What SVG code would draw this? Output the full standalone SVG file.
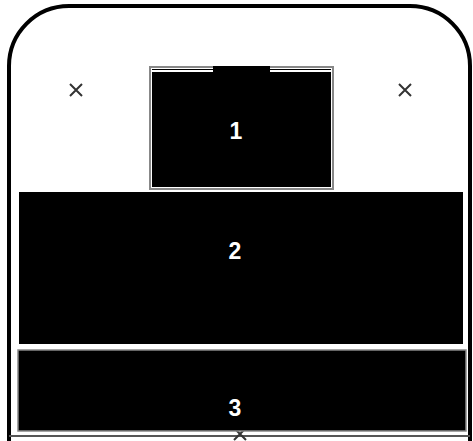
<svg xmlns="http://www.w3.org/2000/svg" width="473" height="441" viewBox="0 0 473 441">
<style>
.lbl{font-family:"Liberation Sans",Arial,sans-serif;font-weight:bold;font-size:23px;fill:#fff;text-anchor:middle}
.blk{fill:#000}
.x{stroke:#333;stroke-width:2;fill:none}
</style>
<rect width="473" height="441" fill="#fff"/>
<g id="frame">
<path d="M9,441 V66 A60,60 0 0 1 69,6 H410 A60,60 0 0 1 470,66 V441" fill="none" stroke="#000" stroke-width="4"/>
<line x1="9" y1="436" x2="470" y2="436" stroke="#555" stroke-width="2"/>
</g>
<g id="marks">
<path class="x" d="M70,84 L82,96 M82,84 L70,96"/>
<path class="x" d="M399,84 L411,96 M411,84 L399,96"/>
<path class="x" d="M234,428 L246,440 M246,428 L234,440"/>
</g>
<g id="node1">
<rect x="150" y="67" width="183" height="122" fill="#fff" stroke="#888" stroke-width="2"/>
<rect class="blk" x="152" y="69" width="179" height="118"/>
<line x1="152" y1="71" x2="213" y2="71" stroke="#fff" stroke-width="2"/>
<line x1="270" y1="71" x2="331" y2="71" stroke="#fff" stroke-width="2"/>
<rect class="blk" x="213" y="66" width="57" height="6"/>
<text class="lbl" x="236" y="139">1</text>
</g>
<g id="node2">
<rect class="blk" x="19" y="192" width="444" height="152"/>
<text class="lbl" x="235" y="259">2</text>
</g>
<g id="node3">
<rect x="18" y="350" width="448" height="81" fill="#000" stroke="#888" stroke-width="1.5"/>
<text class="lbl" x="235" y="416">3</text>
</g>
</svg>
